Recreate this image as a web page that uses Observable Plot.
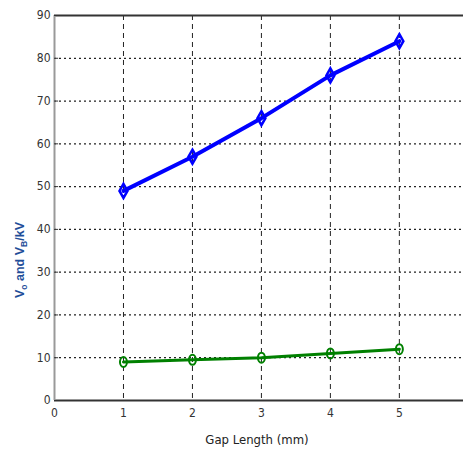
<!DOCTYPE html>
<html><head><meta charset="utf-8">
<script src="https://cdn.jsdelivr.net/npm/d3@7"></script>
<script src="https://cdn.jsdelivr.net/npm/@observablehq/plot@0.6"></script>
<style>body{margin:0;background:#fff}</style>
</head><body><div id="chart"></div>
<script>
const gapLength = [1, 2, 3, 4, 5];
const vo = [49, 57, 66, 76, 84];
const vb = [9, 9.5, 10, 11, 12];
const xTicks = [0, 1, 2, 3, 4, 5];
const yTicks = [0, 10, 20, 30, 40, 50, 60, 70, 80, 90];

const blue = gapLength.map((g, i) => ({x: g, y: vo[i]}));
const green = gapLength.map((g, i) => ({x: g, y: vb[i]}));
const font = "'DejaVu Sans Condensed', 'Liberation Sans Narrow', Arial, sans-serif";

const tallDiamond = {draw(ctx) { const w = 4, h = 7; ctx.moveTo(0, -h); ctx.lineTo(w, 0); ctx.lineTo(0, h); ctx.lineTo(-w, 0); ctx.closePath(); }};
const tallEllipse = {draw(ctx) {
  const a = 3.5, b = 5, k = 0.5523;
  ctx.moveTo(0, -b);
  ctx.bezierCurveTo(a * k, -b, a, -b * k, a, 0);
  ctx.bezierCurveTo(a, b * k, a * k, b, 0, b);
  ctx.bezierCurveTo(-a * k, b, -a, b * k, -a, 0);
  ctx.bezierCurveTo(-a, -b * k, -a * k, -b, 0, -b);
  ctx.closePath();
}};

const plot = Plot.plot({
  width: 463, height: 457,
  marginLeft: 54, marginTop: 15, marginBottom: 57, marginRight: 0,
  style: {fontFamily: font, fontSize: "12px", color: "#333", background: "#fff"},
  x: {domain: [0, 5.93], ticks: xTicks, label: null},
  y: {domain: [0, 90], ticks: yTicks, label: null},
  marks: [
    Plot.ruleX(xTicks.slice(1), {stroke: "#222", strokeDasharray: "5,4", strokeWidth: 1}),
    Plot.ruleY(yTicks.slice(1, -1), {stroke: "#222", strokeDasharray: "2,3", strokeWidth: 1.2}),
    Plot.ruleY([90], {stroke: "#333", strokeWidth: 2}),
    Plot.ruleY([0], {stroke: "#333", strokeWidth: 2}),
    Plot.ruleX([0], {stroke: "#999", strokeWidth: 2}),
    Plot.ruleY(yTicks, {x1: 0, x2: 0.06, stroke: "#333"}),
    Plot.axisX({ticks: xTicks, tickFormat: "d", tickSize: 0, tickPadding: 8, fill: "#333"}),
    Plot.axisY({ticks: yTicks, tickFormat: "d", tickSize: 0, tickPadding: 4, fill: "#333"}),
    Plot.line(blue, {x: "x", y: "y", stroke: "#0000ff", strokeWidth: 4}),
    Plot.dot(blue, {x: "x", y: "y", symbol: tallDiamond, stroke: "#0000ff", strokeWidth: 2.5, fill: "none"}),
    Plot.line(green, {x: "x", y: "y", stroke: "#008000", strokeWidth: 3}),
    Plot.dot(green, {x: "x", y: "y", symbol: tallEllipse, stroke: "#008000", strokeWidth: 2, fill: "none"})
  ]
});
document.getElementById("chart").appendChild(plot);
const svg = d3.select(plot);
svg.append("text")
  .attr("x", 257).attr("y", 444).attr("text-anchor", "middle")
  .attr("font-family", font).attr("font-size", 13).attr("fill", "#222")
  .text("Gap Length (mm)");
const yl = svg.append("text")
  .attr("transform", "translate(24,260) rotate(-90)")
  .attr("text-anchor", "middle")
  .attr("font-family", "'Liberation Sans', Arial, sans-serif").attr("font-size", 12.5).attr("font-weight", "bold").attr("fill", "#1f4e99");
yl.append("tspan").text("V");
yl.append("tspan").attr("dy", 3).attr("font-size", 8.5).text("o");
yl.append("tspan").attr("dy", -3).text(" and V");
yl.append("tspan").attr("dy", 3).attr("font-size", 8.5).text("B");
yl.append("tspan").attr("dy", -3).text("/kV");
</script></body></html>
